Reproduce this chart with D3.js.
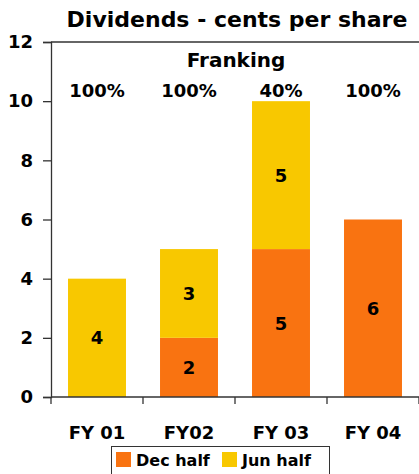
<!DOCTYPE html>
<html>
<head>
<meta charset="utf-8">
<script src="https://cdn.jsdelivr.net/npm/d3@7"></script>
<style>
  body { margin: 0; background: #fff; }
  svg { display: block; font-family: "DejaVu Sans", Verdana, sans-serif; font-weight: bold; }
</style>
</head>
<body>
<div id="chart"></div>
<script>
// data
const years = ["FY 01", "FY02", "FY 03", "FY 04"];
const decHalf = [0, 2, 5, 6];
const junHalf = [4, 3, 5, 0];
const franking = ["100%", "100%", "40%", "100%"];
const yTicks = [0, 2, 4, 6, 8, 10, 12];

const colors = { dec: "#f97311", jun: "#f8c800" };

const width = 419, height = 474;
const plot = { left: 51, right: 419, top: 42, bottom: 397 };

const svg = d3.select("#chart").append("svg")
  .attr("width", width)
  .attr("height", height);

const x = d3.scaleBand()
  .domain(years)
  .range([plot.left, plot.right])
  .paddingInner(0.37)
  .paddingOuter(0.185);

const y = d3.scaleLinear()
  .domain([0, 12])
  .range([plot.bottom, plot.top]);

// stacked rows
const rows = years.map((yr, i) => ({ year: yr, dec: decHalf[i], jun: junHalf[i] }));
const stack = d3.stack().keys(["dec", "jun"])(rows);

// title
svg.append("text")
  .attr("x", 237).attr("y", 27)
  .attr("text-anchor", "middle")
  .attr("font-size", 22)
  .text("Dividends - cents per share");

// bars
const layers = svg.append("g").selectAll("g")
  .data(stack)
  .join("g")
  .attr("fill", d => colors[d.key]);

layers.selectAll("rect")
  .data(d => d.filter(s => s[1] - s[0] > 0))
  .join("rect")
  .attr("x", d => x(d.data.year))
  .attr("width", x.bandwidth())
  .attr("y", d => y(d[1]))
  .attr("height", d => y(d[0]) - y(d[1]));

// value labels in the bars
layers.selectAll("text")
  .data(d => d.filter(s => s[1] - s[0] > 0))
  .join("text")
  .attr("x", d => x(d.data.year) + x.bandwidth() / 2)
  .attr("y", d => y((d[0] + d[1]) / 2))
  .attr("dy", "0.36em")
  .attr("text-anchor", "middle")
  .attr("font-size", 18)
  .attr("fill", "#000")
  .text(d => d[1] - d[0]);

// y axis
const yAxis = d3.axisLeft(y)
  .tickValues(yTicks)
  .tickSize(8)
  .tickPadding(10);

const yg = svg.append("g")
  .attr("transform", `translate(${plot.left},0)`)
  .call(yAxis);
yg.select(".domain").attr("stroke", "#333").attr("stroke-width", 1.3);
yg.selectAll(".tick line").attr("stroke", "#333").attr("stroke-width", 1.3);
yg.selectAll(".tick text")
  .attr("font-size", 18)
  .attr("font-family", "DejaVu Sans, sans-serif")
  .attr("font-weight", "bold")
  .attr("fill", "#000");

// top border
svg.append("line")
  .attr("x1", plot.left).attr("x2", plot.right)
  .attr("y1", plot.top).attr("y2", plot.top)
  .attr("stroke", "#333").attr("stroke-width", 1.3);

// x axis: baseline, category ticks at band edges, labels at centres
svg.append("line")
  .attr("x1", plot.left).attr("x2", plot.right)
  .attr("y1", plot.bottom).attr("y2", plot.bottom)
  .attr("stroke", "#333").attr("stroke-width", 1.3);

const edges = years.map(yr => x(yr) - x.step() * x.paddingInner() / 2)
  .concat([plot.right]);
svg.append("g").selectAll("line")
  .data(edges)
  .join("line")
  .attr("x1", d => d).attr("x2", d => d)
  .attr("y1", plot.bottom).attr("y2", plot.bottom + 7)
  .attr("stroke", "#333").attr("stroke-width", 1.3);

svg.append("g").selectAll("text")
  .data(years)
  .join("text")
  .attr("x", d => x(d) + x.bandwidth() / 2)
  .attr("y", 439)
  .attr("text-anchor", "middle")
  .attr("font-size", 18)
  .text(d => d);

// franking header
svg.append("text")
  .attr("x", 236).attr("y", 67)
  .attr("text-anchor", "middle")
  .attr("font-size", 20)
  .text("Franking");

svg.append("g").selectAll("text")
  .data(years)
  .join("text")
  .attr("x", d => x(d) + x.bandwidth() / 2)
  .attr("y", 97)
  .attr("text-anchor", "middle")
  .attr("font-size", 18)
  .text((d, i) => franking[i]);

// legend
const legend = svg.append("g");
legend.append("rect")
  .attr("x", 111.5).attr("y", 446.5)
  .attr("width", 218).attr("height", 32)
  .attr("fill", "#fff").attr("stroke", "#333");

const legendItems = [
  { label: "Dec half", color: colors.dec, x: 116 },
  { label: "Jun half", color: colors.jun, x: 222 }
];
const li = legend.selectAll("g.item")
  .data(legendItems)
  .join("g")
  .attr("class", "item");
li.append("rect")
  .attr("x", d => d.x).attr("y", 452)
  .attr("width", 15).attr("height", 15)
  .attr("fill", d => d.color);
li.append("text")
  .attr("x", d => d.x + 20).attr("y", 466)
  .attr("font-size", 16)
  .text(d => d.label);
</script>
</body>
</html>
